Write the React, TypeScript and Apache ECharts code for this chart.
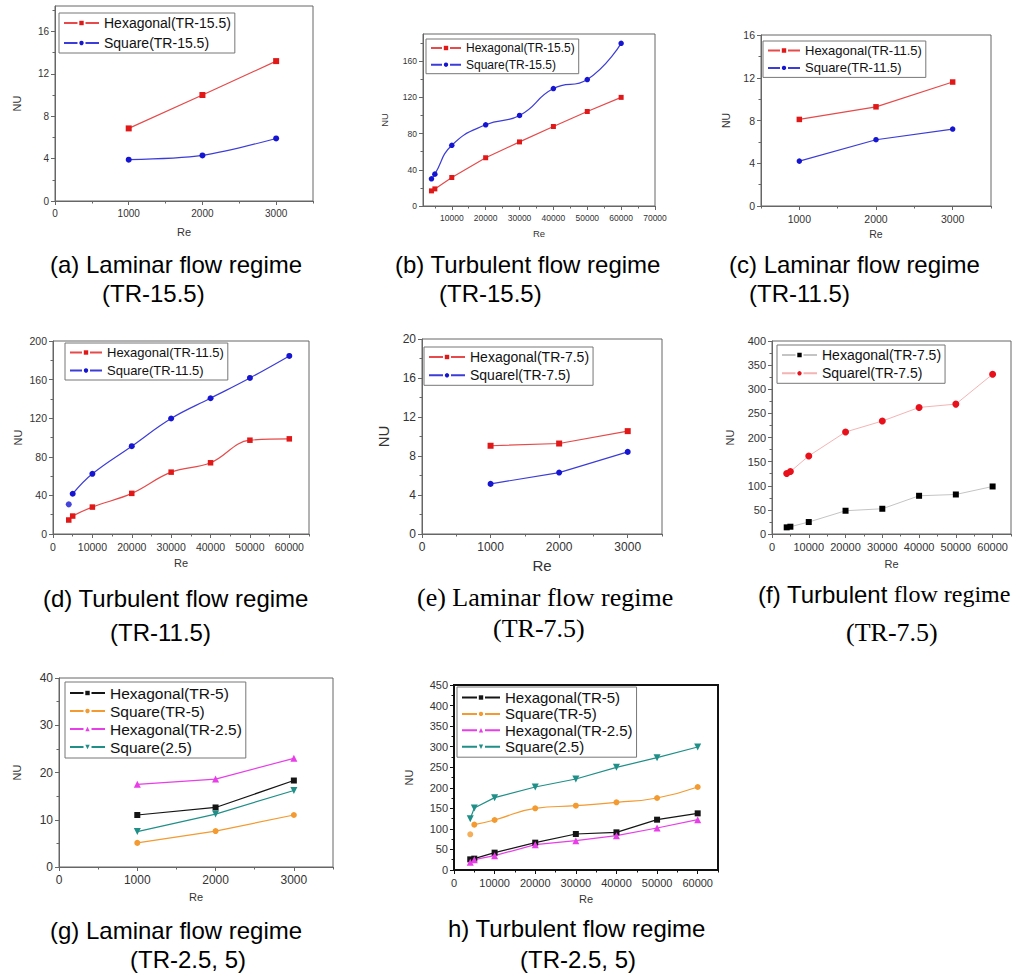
import React, { useEffect, useRef } from 'react';
import * as echarts from 'echarts';

// ---------- data ----------
const reLam = [1000, 2000, 3000];
const reTurb = [4000, 5000, 10000, 20000, 30000, 40000, 50000, 60000];

// (a) Laminar TR-15.5
const aHex = [6.85, 10.0, 13.2];
const aSq = [3.9, 4.3, 5.9];
// (b) Turbulent TR-15.5
const bHex = [16.7, 18.9, 31.5, 53.3, 70.8, 87.8, 104.4, 120];
const bSq = [30, 35.2, 67.1, 89.7, 100, 129.7, 139.7, 179.7];
// (c) Laminar TR-11.5
const cHex = [8.1, 9.28, 11.6];
const cSq = [4.2, 6.2, 7.2];
// (d) Turbulent TR-11.5
const dHex = [14.5, 18.6, 27.9, 42.1, 64.1, 73.8, 97.2, 98.6];
const dSq = [30.7, 41.7, 62.4, 91, 119.7, 140.7, 161.7, 184.5];
// (e) Laminar TR-7.5
const eHex = [9.05, 9.28, 10.55];
const eSq = [5.14, 6.3, 8.42];
// (f) Turbulent TR-7.5
const fHex = [13.8, 15.1, 24.8, 48.2, 52.3, 79.2, 81.9, 98.5];
const fSq = [125.3, 129.4, 161.8, 211.4, 234.1, 262.3, 269.2, 331.2];
// (g) Laminar TR-2.5, 5
const gHex5 = [11.0, 12.6, 18.3];
const gSq5 = [5.1, 7.6, 11.0];
const gHex25 = [17.5, 18.6, 23.0];
const gSq25 = [7.5, 11.2, 16.2];
// (h) Turbulent TR-2.5, 5
const hHex5 = [25.9, 27.6, 42.2, 66.5, 87.6, 91.6, 122.4, 137.8];
const hSq5 = [86.8, 110.3, 121.6, 150, 156.5, 164.6, 175.1, 201.9];
const hHex25 = [18.6, 25.1, 34.9, 61.6, 71.4, 83.5, 102.2, 122.4];
const hSq25 = [124.9, 150.8, 176, 201.9, 221.4, 249.7, 273.2, 299.2];

// ---------- tick labels ----------
const lamXTicks = [0, 1000, 2000, 3000];
const cXTicks = [1000, 2000, 3000];
const bXTicks = [10000, 20000, 30000, 40000, 50000, 60000, 70000];
const turbXTicks = [0, 10000, 20000, 30000, 40000, 50000, 60000];
const ticks16 = [0, 4, 8, 12, 16];
const ticks20 = [0, 4, 8, 12, 16, 20];
const bYTicks = [0, 40, 80, 120, 160];
const dYTicks = [0, 40, 80, 120, 160, 200];
const fYTicks = [0, 50, 100, 150, 200, 250, 300, 350, 400];
const gYTicks = [0, 10, 20, 30, 40];
const hYTicks = [0, 50, 100, 150, 200, 250, 300, 350, 400, 450];

// ---------- captions ----------
const captions = [
  { t: '(a) Laminar flow regime', x: 50, y: 264 },
  { t: '(TR-15.5)', x: 102, y: 293 },
  { t: '(b) Turbulent flow regime', x: 395, y: 264 },
  { t: '(TR-15.5)', x: 439, y: 293 },
  { t: '(c) Laminar flow regime', x: 729, y: 264 },
  { t: '(TR-11.5)', x: 749, y: 293 },
  { t: '(d) Turbulent flow regime', x: 43, y: 598 },
  { t: '(TR-11.5)', x: 110, y: 632 },
  { t: '(g) Laminar flow regime', x: 50, y: 930 },
  { t: '(TR-2.5, 5)', x: 130, y: 959 },
  { t: 'h) Turbulent flow regime', x: 448, y: 928 },
  { t: '(TR-2.5, 5)', x: 520, y: 959 },
];
const serifCaptions = [
  { t: '(e) Laminar flow regime', x: 417, y: 597 },
  { t: '(TR-7.5)', x: 493, y: 628 },
  { t: '(TR-7.5)', x: 846, y: 632 },
];

const SANS = '"Liberation Sans", Arial, sans-serif';
const SERIF = '"Liberation Serif", "Times New Roman", serif';

const RED_L = '#e64a4a';
const RED_M = '#e01818';
const BLUE_L = '#3c3cd8';
const BLUE_M = '#1616d2';
const BLACK = '#151515';
const ORANGE = '#f39a30';
const MAGENTA = '#e83ee8';
const TEAL = '#1f8f88';
const DOWN_TRI = 'path://M0,0 L10,0 L5,9 Z';

type S = {
  name: string; xs: number[]; ys: number[]; color: string; line?: string;
  symbol: string; size?: number; smooth?: number; detachFirst?: boolean; lw?: number;
};
type P = {
  box: number[]; xMin: number; xMax: number; xTicks: number[]; xMinorStep: number;
  yMax: number; yTicks: number[]; yMinorStep: number;
  labelSize: number; nameSize: number; gapX: number; gapY: number;
  frame: string; frameW: number;
  lg: { left: number; top: number; size: number; gap: number; iw: number };
  series: S[];
};

const panels: P[] = [
  {
    box: [55, 6, 258, 195], xMin: 0, xMax: 3500, xTicks: lamXTicks, xMinorStep: 500,
    yMax: 18.4, yTicks: ticks16, yMinorStep: 2, labelSize: 10, nameSize: 11, gapX: 25, gapY: 33,
    frame: '#666', frameW: 1, lg: { left: 59, top: 13, size: 14, gap: 6, iw: 35 },
    series: [
      { name: 'Hexagonal(TR-15.5)', xs: reLam, ys: aHex, color: RED_M, line: RED_L, symbol: 'rect' },
      { name: 'Square(TR-15.5)', xs: reLam, ys: aSq, color: BLUE_M, line: BLUE_L, symbol: 'circle', smooth: 0.3 },
    ],
  },
  {
    box: [423, 34, 232, 172], xMin: 1500, xMax: 70000, xTicks: bXTicks, xMinorStep: 5000,
    yMax: 190, yTicks: bYTicks, yMinorStep: 20, labelSize: 8.5, nameSize: 9.5, gapX: 22, gapY: 34,
    frame: '#666', frameW: 1, lg: { left: 426, top: 39, size: 12, gap: 4.7, iw: 30 },
    series: [
      { name: 'Hexagonal(TR-15.5)', xs: reTurb, ys: bHex, color: RED_M, line: RED_L, symbol: 'rect', size: 5 },
      { name: 'Square(TR-15.5)', xs: reTurb, ys: bSq, color: BLUE_M, line: BLUE_L, symbol: 'circle', size: 5.5, smooth: 0.5 },
    ],
  },
  {
    box: [761, 35, 230, 171], xMin: 500, xMax: 3500, xTicks: cXTicks, xMinorStep: 500,
    yMax: 16, yTicks: ticks16, yMinorStep: 2, labelSize: 10.5, nameSize: 10.5, gapX: 22, gapY: 30,
    frame: '#666', frameW: 1, lg: { left: 763, top: 41, size: 13, gap: 4.4, iw: 32 },
    series: [
      { name: 'Hexagonal(TR-11.5)', xs: reLam, ys: cHex, color: RED_M, line: RED_L, symbol: 'rect', size: 5.5 },
      { name: 'Square(TR-11.5)', xs: reLam, ys: cSq, color: BLUE_M, line: BLUE_L, symbol: 'circle', size: 5.5 },
    ],
  },
  {
    box: [53, 341, 256, 193], xMin: 0, xMax: 65000, xTicks: turbXTicks, xMinorStep: 5000,
    yMax: 200, yTicks: dYTicks, yMinorStep: 20, labelSize: 10.5, nameSize: 11, gapX: 23, gapY: 30,
    frame: '#666', frameW: 1, lg: { left: 65, top: 343, size: 13, gap: 5, iw: 32 },
    series: [
      { name: 'Hexagonal(TR-11.5)', xs: reTurb, ys: dHex, color: RED_M, line: RED_L, symbol: 'rect', size: 5.5, smooth: 0.4 },
      { name: 'Square(TR-11.5)', xs: reTurb, ys: dSq, color: BLUE_M, line: BLUE_L, symbol: 'circle', size: 6, smooth: 0.4, detachFirst: true },
    ],
  },
  {
    box: [422, 339, 240, 195], xMin: 0, xMax: 3500, xTicks: lamXTicks, xMinorStep: 500,
    yMax: 20, yTicks: ticks20, yMinorStep: 2, labelSize: 12, nameSize: 15, gapX: 24, gapY: 31,
    frame: '#666', frameW: 1, lg: { left: 424, top: 347, size: 14, gap: 4.3, iw: 36 },
    series: [
      { name: 'Hexagonal(TR-7.5)', xs: reLam, ys: eHex, color: RED_M, line: RED_L, symbol: 'rect', size: 6 },
      { name: 'Squarel(TR-7.5)', xs: reLam, ys: eSq, color: BLUE_M, line: BLUE_L, symbol: 'circle', size: 6 },
    ],
  },
  {
    box: [772, 341, 239, 193], xMin: 0, xMax: 65000, xTicks: turbXTicks, xMinorStep: 5000,
    yMax: 400, yTicks: fYTicks, yMinorStep: 25, labelSize: 11, nameSize: 11, gapX: 24, gapY: 37,
    frame: '#666', frameW: 1, lg: { left: 777, top: 345, size: 14, gap: 4.3, iw: 35 },
    series: [
      { name: 'Hexagonal(TR-7.5) ', xs: reTurb, ys: fHex, color: '#000', line: '#c4c4c4', symbol: 'rect', size: 6, lw: 1 },
      { name: 'Squarel(TR-7.5) ', xs: reTurb, ys: fSq, color: '#e8101a', line: '#f4b4b4', symbol: 'circle', size: 7, lw: 1 },
    ],
  },
  {
    box: [59, 678, 274, 189], xMin: 0, xMax: 3500, xTicks: lamXTicks, xMinorStep: 500,
    yMax: 40, yTicks: gYTicks, yMinorStep: 5, labelSize: 12, nameSize: 11, gapX: 24, gapY: 37,
    frame: '#666', frameW: 1, lg: { left: 65, top: 682, size: 15.5, gap: 2, iw: 35 },
    series: [
      { name: 'Hexagonal(TR-5)', xs: reLam, ys: gHex5, color: BLACK, symbol: 'rect', size: 6 },
      { name: 'Square(TR-5)', xs: reLam, ys: gSq5, color: ORANGE, symbol: 'circle', size: 6 },
      { name: 'Hexagonal(TR-2.5)', xs: reLam, ys: gHex25, color: MAGENTA, symbol: 'triangle', size: 7 },
      { name: 'Square(2.5)', xs: reLam, ys: gSq25, color: TEAL, symbol: DOWN_TRI, size: 7 },
    ],
  },
  {
    box: [454, 685, 264, 185], xMin: 0, xMax: 65000, xTicks: turbXTicks, xMinorStep: 5000,
    yMax: 450, yTicks: hYTicks, yMinorStep: 25, labelSize: 11, nameSize: 11, gapX: 23, gapY: 40,
    frame: '#111', frameW: 2, lg: { left: 457, top: 687, size: 15, gap: 1.4, iw: 38 },
    series: [
      { name: 'Hexagonal(TR-5)', xs: reTurb, ys: hHex5, color: BLACK, symbol: 'rect', size: 6 },
      { name: 'Square(TR-5)', xs: reTurb, ys: hSq5, color: ORANGE, symbol: 'circle', size: 6, smooth: 0.5, detachFirst: true },
      { name: 'Hexagonal(TR-2.5)', xs: reTurb, ys: hHex25, color: MAGENTA, symbol: 'triangle', size: 7 },
      { name: 'Square(2.5)', xs: reTurb, ys: hSq25, color: TEAL, symbol: DOWN_TRI, size: 7 },
    ],
  },
];

function minorVals(min: number, max: number, step: number, majors: number[]) {
  const out: number[] = [];
  const start = Math.ceil(min / step) * step;
  for (let v = start; v <= max + 1e-9; v += step) {
    if (!majors.some((m) => Math.abs(m - v) < 1e-9)) out.push(v);
  }
  return out;
}

const plain = (v: number) => String(v);

function buildOption() {
  const grid: any[] = [];
  const xAxis: any[] = [];
  const yAxis: any[] = [];
  const series: any[] = [];
  const legend: any[] = [];
  panels.forEach((p, i) => {
    const [l, t, w, h] = p.box;
    grid.push({ left: l, top: t, width: w, height: h, show: true, borderColor: p.frame, borderWidth: p.frameW, backgroundColor: 'rgba(0,0,0,0)' });
    const xMinor = minorVals(p.xMin, p.xMax, p.xMinorStep, p.xTicks);
    const yMinor = minorVals(0, p.yMax, p.yMinorStep, p.yTicks);
    const axisLine = { show: true, lineStyle: { color: p.frame, width: p.frameW } };
    const nameStyle = { fontFamily: SANS, fontSize: p.nameSize, color: '#333' };
    const labelStyle = { fontFamily: SANS, fontSize: p.labelSize, color: '#333' };
    xAxis.push({
      type: 'value', gridIndex: i, position: 'bottom', min: p.xMin, max: p.xMax,
      name: 'Re', nameLocation: 'middle', nameGap: p.gapX, nameTextStyle: nameStyle,
      axisLine, axisTick: { show: true, customValues: p.xTicks, length: 4, lineStyle: { color: p.frame } },
      axisLabel: { show: true, customValues: p.xTicks, margin: 7, formatter: plain, ...labelStyle },
      splitLine: { show: false },
    });
    xAxis.push({
      type: 'value', gridIndex: i, position: 'bottom', min: p.xMin, max: p.xMax,
      axisLine: { show: false }, axisTick: { show: true, customValues: xMinor, length: 2.5, lineStyle: { color: p.frame } },
      axisLabel: { show: false }, splitLine: { show: false },
    });
    yAxis.push({
      type: 'value', gridIndex: i, position: 'left', min: 0, max: p.yMax,
      name: 'NU', nameLocation: 'middle', nameGap: p.gapY, nameTextStyle: nameStyle,
      axisLine, axisTick: { show: true, customValues: p.yTicks, length: 4, lineStyle: { color: p.frame } },
      axisLabel: { show: true, customValues: p.yTicks, margin: 6, formatter: plain, ...labelStyle },
      splitLine: { show: false },
    });
    yAxis.push({
      type: 'value', gridIndex: i, position: 'left', min: 0, max: p.yMax,
      axisLine: { show: false }, axisTick: { show: true, customValues: yMinor, length: 2.5, lineStyle: { color: p.frame } },
      axisLabel: { show: false }, splitLine: { show: false },
    });
    p.series.forEach((s) => {
      const pts = s.xs.map((x, k) => [x, s.ys[k]]);
      const lineData = s.detachFirst ? pts.slice(1) : pts;
      series.push({
        type: 'line', name: s.name, xAxisIndex: 2 * i, yAxisIndex: 2 * i, data: lineData,
        symbol: s.symbol, symbolSize: s.size ?? 6, smooth: s.smooth ?? false, showAllSymbol: true,
        itemStyle: { color: s.color }, lineStyle: { color: s.line ?? s.color, width: s.lw ?? 1.2 }, z: 3,
      });
      if (s.detachFirst) {
        series.push({
          type: 'scatter', name: s.name.trim() + ' first point', xAxisIndex: 2 * i, yAxisIndex: 2 * i,
          data: pts.slice(0, 1), symbol: s.symbol, symbolSize: s.size ?? 6, itemStyle: { color: s.color }, z: 3,
        });
      }
    });
    const seg = (p.lg.iw - 8) / 2;
    legend.push({
      show: true, orient: 'vertical', left: p.lg.left, top: p.lg.top,
      data: p.series.map((s) => s.name), itemWidth: p.lg.iw, itemHeight: 5.5, itemGap: p.lg.gap,
      selectedMode: false, borderColor: '#777', borderWidth: 1, padding: [3, 4, 3, 4],
      backgroundColor: '#fff', textStyle: { fontFamily: SANS, fontSize: p.lg.size, color: '#111' },
      lineStyle: { type: [seg, 8] },
      formatter: (n: string) => n.trim(),
    });
  });

  const graphic: any[] = [];
  captions.forEach((c) => graphic.push({
    type: 'text', left: c.x, top: c.y - 12,
    style: { text: c.t, fontFamily: SANS, fontSize: 24, fill: '#000' },
  }));
  serifCaptions.forEach((c) => graphic.push({
    type: 'text', left: c.x, top: c.y - 13,
    style: { text: c.t, fontFamily: SERIF, fontSize: 26, fill: '#000' },
  }));
  graphic.push({
    type: 'text', left: 758, top: 595 - 13,
    style: {
      text: '{a|(f) Turbulent}{b| flow regime}', fill: '#000',
      rich: {
        a: { fontFamily: SANS, fontSize: 24, fill: '#000' },
        b: { fontFamily: SERIF, fontSize: 24, fill: '#000' },
      },
    },
  });

  return { animation: false, backgroundColor: '#fff', grid, xAxis, yAxis, series, legend, graphic };
}

export default function App() {
  const ref = useRef<HTMLDivElement>(null);
  useEffect(() => {
    if (!ref.current) return;
    const chart = echarts.init(ref.current, undefined, { renderer: 'svg' });
    chart.setOption(buildOption() as any);
    return () => chart.dispose();
  }, []);
  return <div ref={ref} style={{ position: 'absolute', left: 0, top: 0, width: 1015, height: 974 }} />;
}
